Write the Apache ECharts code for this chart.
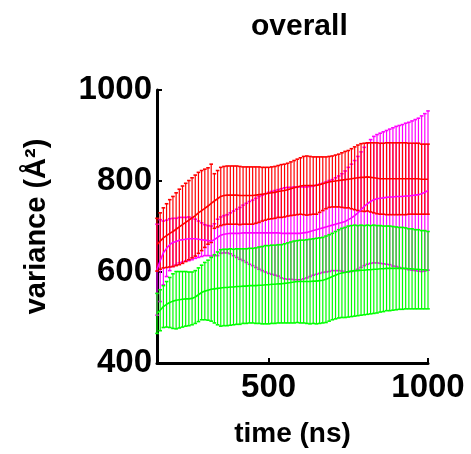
<!DOCTYPE html>
<html>
<head>
<meta charset="utf-8">
<script src="https://cdn.jsdelivr.net/npm/echarts@6/dist/echarts.min.js"></script>
<style>html,body{margin:0;padding:0;background:#fff;}#c{width:471px;height:454px;}</style>
</head>
<body>
<div id="c"></div>
<script>
// time points (ns), every 10 ns from 150 to 1000
const times = [150,160,170,180,190,200,210,220,230,240,250,260,270,280,290,300,310,320,330,340,350,360,370,380,390,400,410,420,430,440,450,460,470,480,490,500,510,520,530,540,550,560,570,580,590,600,610,620,630,640,650,660,670,680,690,700,710,720,730,740,750,760,770,780,790,800,810,820,830,840,850,860,870,880,890,900,910,920,930,940,950,960,970,980,990,1000];

const redMean = [660,668,675,680,685, 689,694,699,704,709, 714,719,724,730,735, 740,745,751,756,761, 766,768,769,769,769, 769,768,768,768,768, 768,769,770,771,772, 773,774,775,777,778, 779,781,783,785,787, 789,790,790,790,790, 790,792,794,796,798, 799,800,801,802,803, 804,805,806,807,808, 808,809,808,807,806, 805,805,805,805,805, 805,805,805,805,805, 805,805,805,804,804, 804];
const redSd = [58,62,66,70,74, 77,80,83,85,86, 87,88,89,89,88, 86,84,86,60,62, 64,64,64,64,64, 64,64,63,63,63, 63,62,61,59,58, 57,57,57,57,58, 58,58,59,60,61, 62,64,65,64,63, 63,61,59,57,56, 56,57,58,60,62, 63,66,69,72,74, 75,75,76,77,78, 78,78,79,79,79, 79,79,79,79,78, 78,78,78,77,77, 77];

const magMean = [605,625,642,652,660, 665,667,670,671,672, 673,673,673,672,671, 670,669,668,671,676, 681,683,684,685,685, 685,685,686,686,686, 686,686,686,686,686, 686,686,686,686,685, 685,685,685,685,685, 685,686,687,689,691, 693,695,697,699,701, 703,705,707,709,711, 715,719,724,730,737, 744,750,755,759,761, 762,763,764,765,765, 766,766,766,767,767, 768,769,770,772,775, 779];
const magSd = [100,90,70,62,57, 53,51,50,49,48, 48,46,43,40,37, 34,33,33,35,40, 40,41,42,45,49, 53,57,61,65,69, 72,76,80,83,86, 89,91,93,95,98, 100,101,101,102,102, 102,101,100,99,98, 98,98,98,99,100, 100,102,104,107,111, 115,118,121,124,127, 130,133,136,139,141, 143,145,147,149,152, 154,156,158,160,162, 164,166,168,171,173, 175];

const greenMean = [509,516,524,529,533, 536,538,539,540,541, 541,542,545,550,555, 558,560,562,563,564, 565,566,566,567,567, 568,568,569,569,570, 570,570,571,571,572, 572,573,573,574,574, 575,576,577,578,579, 579,579,579,579,580, 580,581,582,584,587, 590,593,596,598,599, 601,602,603,603,604, 604,605,605,606,606, 607,607,608,608,608, 608,608,608,608,607, 607,606,606,605,605, 604];
const greenSd = [44,45,46,50,55, 60,63,62,61,60, 59,58,58,59,60, 63,66,70,75,80, 84,84,84,84,83, 83,83,82,82,82, 82,83,84,85,86, 86,86,86,86,86, 87,88,89,90,90, 91,91,92,93,93, 94,94,94,95,95, 95,96,97,98,99, 100,100,100,99,99, 98,98,97,97,96, 95,94,93,93,92, 91,90,90,89,88, 88,87,87,86,86, 85];

const xTicks = [500, 1000];
const yTicks = [400, 600, 800, 1000];

const chart = echarts.init(document.getElementById('c'), null, {renderer: 'canvas'});

function errData(mean, sd) {
  return times.map((t, i) => [t, mean[i] - sd[i], mean[i] + sd[i]]);
}
function lineData(mean) {
  return times.map((t, i) => [t, mean[i]]);
}
function errSeries(name, color, mean, sd) {
  return {
    type: 'custom',
    name: name,
    data: errData(mean, sd),
    encode: {x: 0, y: [1, 2]},
    silent: true,
    z: 2,
    renderItem: function (params, api) {
      const t = api.value(0);
      const lo = api.coord([t, api.value(1)]);
      const hi = api.coord([t, api.value(2)]);
      const hw = 1.8;
      const style = {stroke: color, lineWidth: 1.2, fill: null};
      return {
        type: 'group',
        children: [
          {type: 'line', shape: {x1: lo[0], y1: lo[1], x2: hi[0], y2: hi[1]}, style: style},
          {type: 'line', shape: {x1: hi[0] - hw, y1: hi[1], x2: hi[0] + hw, y2: hi[1]}, style: {stroke: color, lineWidth: 1.6}},
          {type: 'line', shape: {x1: lo[0] - hw, y1: lo[1], x2: lo[0] + hw, y2: lo[1]}, style: {stroke: color, lineWidth: 1.6}}
        ]
      };
    }
  };
}
function meanSeries(name, color, mean) {
  return {
    type: 'line',
    name: name,
    data: lineData(mean),
    symbol: 'none',
    z: 3,
    lineStyle: {color: color, width: 1.6},
    silent: true
  };
}

const fontFam = '"Liberation Sans", Arial, sans-serif';

chart.setOption({
  animation: false,
  backgroundColor: '#fff',
  title: {
    text: 'overall',
    left: 246,
    top: 7,
    textStyle: {fontFamily: fontFam, fontWeight: 'bold', fontSize: 30, color: '#000'}
  },
  grid: {left: 157, top: 90, width: 271, height: 273, containLabel: false},
  xAxis: {
    type: 'value',
    min: 150,
    max: 1000,
    name: 'time (ns)',
    nameLocation: 'middle',
    nameGap: 57,
    nameTextStyle: {fontFamily: fontFam, fontWeight: 'bold', fontSize: 28, color: '#000'},
    axisLine: {show: true, onZero: false, lineStyle: {color: '#000', width: 3}},
    axisTick: {show: true, inside: true, length: 5, lineStyle: {color: '#000', width: 2}, customValues: xTicks},
    axisLabel: {customValues: xTicks, margin: 8, fontFamily: fontFam, fontWeight: 'bold', fontSize: 33, color: '#000',
      formatter: function (v) { return String(v); }},
    splitLine: {show: false}
  },
  yAxis: {
    type: 'value',
    min: 400,
    max: 1000,
    interval: 200,
    name: 'variance (Å²)',
    nameLocation: 'middle',
    nameGap: 106,
    nameRotate: 90,
    nameTextStyle: {fontFamily: fontFam, fontWeight: 'bold', fontSize: 29, color: '#000'},
    axisLine: {show: true, onZero: false, lineStyle: {color: '#000', width: 3}},
    axisTick: {show: true, inside: true, length: 5, lineStyle: {color: '#000', width: 2}},
    axisLabel: {margin: 5, fontFamily: fontFam, fontWeight: 'bold', fontSize: 33, color: '#000',
      formatter: function (v) { return yTicks.indexOf(v) >= 0 ? String(v) : ''; }},
    splitLine: {show: false}
  },
  series: [
    errSeries('magenta', '#ff00ff', magMean, magSd),
    errSeries('red', '#ff0000', redMean, redSd),
    errSeries('green', '#00ff00', greenMean, greenSd),
    meanSeries('magenta mean', '#ff00ff', magMean),
    meanSeries('red mean', '#ff0000', redMean),
    meanSeries('green mean', '#00ff00', greenMean)
  ]
});
</script>
</body>
</html>
